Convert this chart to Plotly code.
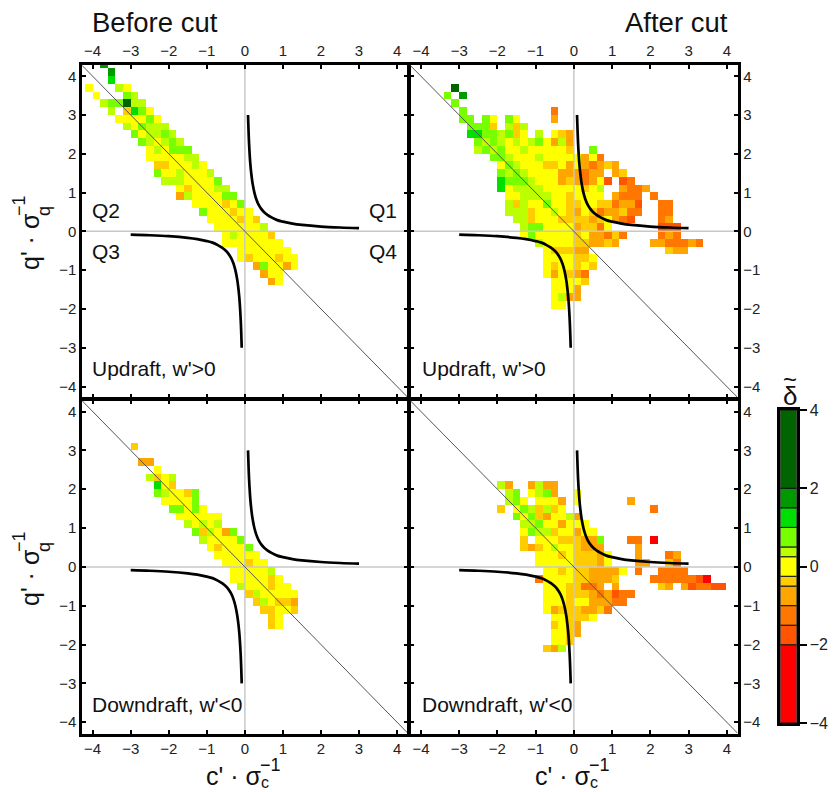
import plotly.graph_objects as go

W, H = 835, 792
FONT = "Liberation Sans"

# colour levels: code -> representative value, colour
LEVEL_BOUNDS = [-4, -2, -1.5, -1, -0.5, -0.25, 0.25, 0.5, 1, 1.5, 2, 4]
LEVEL_COLORS = ["#ff0000", "#ff5500", "#ff7700", "#ffa500", "#ffcc00", "#ffff00",
                "#bbff00", "#77ff00", "#00e000", "#009a00", "#006400"]
CODE_VALUES = {"r": -3, "i": -1.75, "h": -1.25, "g": -0.75, "f": -0.37, "y": 0,
               "e": 0.37, "d": 0.75, "c": 1.25, "b": 1.75, "a": 3}

# each row: (lower edge of q bin, left edge of first c bin, codes per 0.2-wide bin)
UP_BEFORE = [
    (4.2, -3.8, "b"), (4.0, -3.6, "b"), (3.8, -3.6, "c"), (3.6, -4.2, "y...ey"),
    (3.4, -4.0, "y...de"), (3.2, -3.8, "eddaee"), (3.0, -3.6, "e.fcdy"),
    (2.8, -3.4, "yyyydy"), (2.6, -3.2, "eydeee"), (2.4, -3.0, "dyeede"),
    (2.2, -2.8, "deyede"), (2.0, -2.6, "yeyddd"), (1.8, -2.6, "yyyyyee"),
    (1.6, -2.4, "ffyyyey"), (1.4, -2.4, "dyyeyyye"), (1.2, -2.2, "eeeyyyyd"),
    (1.0, -1.8, "yfyyyee"), (0.8, -1.8, "geyyyydd"), (0.6, -1.4, "yyyyfyd"),
    (0.4, -1.2, "dyyyfyy"), (0.2, -1.0, "yyyyfyf"), (0.0, -0.8, "yyyyyye"),
    (-0.2, -0.6, "yeyyyyf"), (-0.4, -0.6, "yyyyyyyy"), (-0.6, -0.2, "yyyyyyy"),
    (-0.8, -0.2, "yfyyyfyy"), (-1.0, 0.2, "gdyygy"), (-1.2, 0.4, "gyy"), (-1.4, 0.6, "gy"),
]
UP_AFTER = [
    (3.6, -3.2, "a"), (3.4, -3.4, "d.b"), (3.2, -3.2, "d"), (3.0, -3.0, "d...........h"),
    (2.8, -3.0, "dd.dy.dy....g"), (2.6, -2.8, "dddf.efe"), (2.4, -2.8, "ccddedfy.e.yfg"),
    (2.2, -2.6, "dedeyeyedygeg"), (2.0, -2.6, "ededyyeyyyyyf..d"),
    (1.8, -2.2, "ddeyyyeyyyyygyh"), (1.6, -2.0, "ydeyyyffygyghgfg"),
    (1.4, -2.0, "dedeyyyyggghgg.gf"), (1.2, -2.0, "cdddeyyygfghgyi.ih"),
    (1.0, -2.0, "cyeeeeyyyyyfye..ghhg"), (0.8, -1.8, "yyeeeeyyfyyyy.ghhh.h"),
    (0.6, -1.8, "efeyydyyffyyffhggi..hh"), (0.4, -1.8, "eeefyyeyfgyfhggfhh..hh"),
    (0.2, -1.6, "eefyyyffffgfyghi...hg"), (0.0, -1.4, "eddyyyygffhy......iii"),
    (-0.2, -1.4, "ydyyyyyfygghfh....hgh"), (-0.4, -1.0, "eyyyyffggfg....gghhhgh"),
    (-0.6, -0.8, "yfffgg..........fgg"), (-0.8, -0.8, "yyyyffy"), (-1.0, -0.8, "yfyyfyf"),
    (-1.2, -0.8, "ygyfgh"), (-1.4, -0.6, "yyyyf"), (-1.6, -0.6, "yyyg"),
    (-1.8, -0.6, "yegg"), (-2.0, -0.6, "yy"),
]
DOWN_BEFORE = [
    (3.0, -3.0, "f"), (2.6, -2.8, "gg"), (2.4, -2.4, "y"), (2.2, -2.6, "efye"),
    (2.0, -2.4, "cyf"), (1.8, -2.4, "deyyfd"), (1.6, -2.2, "yyyyd"), (1.4, -2.0, "ddydy"),
    (1.2, -1.8, "yyyyyy"), (1.0, -1.6, "eyeye"), (0.8, -1.4, "dfeygd"),
    (0.6, -1.2, "eyyyyd"), (0.4, -1.0, "yfyyyd"), (0.2, -0.8, "yyyyyy"),
    (0.0, -0.6, "yyyfyy"), (-0.2, -0.4, "yyyyye"), (-0.4, -0.4, "yyyyyfy"),
    (-0.6, -0.2, "eyyyfyy"), (-0.8, 0.0, "feyyyyy"), (-1.0, 0.2, "feyffg"),
    (-1.2, 0.4, "ffyyf"), (-1.4, 0.6, "fy"), (-1.6, 0.6, "fy"),
]
DOWN_AFTER = [
    (2.0, -2.0, "eg..gegg"), (1.8, -1.8, "ed.yedg..y"), (1.6, -1.8, "edy.yyyg.y......g"),
    (1.4, -2.0, "f.ydefefy...........h"), (1.2, -1.6, "dydfgyyeg"), (1.0, -1.4, "eedyygyyy"),
    (0.8, -1.4, "ydeefyygyy"), (0.6, -1.4, "f.yyyfffggd...hh.r"),
    (0.4, -1.4, "fgfyeyyfggg....g"), (0.2, -1.0, "yyyfyfffgy...g...hg"),
    (0.0, -1.0, "yyyyyfffgy...gg..fh"), (-0.2, -0.8, "yyfyffggggy.h..hhhh"),
    (-0.4, -1.0, "hyyyyffgggf....hhhhhhir"), (-0.6, -0.8, "yyyffhhg.g.....fg.gihhii"),
    (-0.8, -0.8, "yyyfffghgihh"), (-1.0, -0.8, "yyyfyyggghh"), (-1.2, -0.8, "ygfffggfh"),
    (-1.4, -0.6, "yyfffy"), (-1.6, -0.6, "fyfg"), (-1.8, -0.6, "yyfg"),
    (-2.0, -0.6, "yyf"), (-2.2, -0.8, "fge"),
]

# hyperbola guide
CURVE_C = [0.083, 0.09, 0.1, 0.11, 0.125, 0.145, 0.167, 0.2, 0.25, 0.3, 0.36, 0.43, 0.5, 0.6, 0.7, 0.85, 1.0, 1.25, 1.5, 2.0, 2.5, 3.0]
CURVE_Q = [3.0, 2.78, 2.5, 2.27, 2.0, 1.72, 1.5, 1.25, 1.0, 0.83, 0.69, 0.58, 0.5, 0.42, 0.36, 0.29, 0.25, 0.2, 0.167, 0.125, 0.1, 0.083]

TICKS = [-4, -3, -2, -1, 0, 1, 2, 3, 4]
TICK_TEXT = ["\u22124", "\u22123", "\u22122", "\u22121", "0", "1", "2", "3", "4"]
BAR_TICKS = [-4, -2, 0, 2, 4]
BAR_TEXT = ["\u22124", "\u22122", "0", "2", "4"]
XBINS = [-4.3 + 0.2 * i for i in range(44)]
YBINS = XBINS

XR, YR = 4.28, 4.29


def grid(rows):
    z = [[None] * 44 for _ in range(44)]
    for q_low, c_left, codes in rows:
        r = round((q_low + 4.4) / 0.2)
        c0 = round((c_left + 4.4) / 0.2)
        for i, ch in enumerate(codes):
            if ch != ".":
                z[r][c0 + i] = CODE_VALUES[ch]
    return z


def colorscale():
    out = []
    for i, col in enumerate(LEVEL_COLORS):
        out.append([(LEVEL_BOUNDS[i] + 4) / 8, col])
        out.append([(LEVEL_BOUNDS[i + 1] + 4) / 8, col])
    return out


fig = go.Figure()
panels = [
    ("x", "y", UP_BEFORE, (82.0, 407.75), (65.0, 397.75)),
    ("x2", "y2", UP_AFTER, (410.25, 737.5), (65.0, 397.75)),
    ("x3", "y3", DOWN_BEFORE, (82.0, 407.75), (400.25, 733.5)),
    ("x4", "y4", DOWN_AFTER, (410.25, 737.5), (400.25, 733.5)),
]
FRAME = dict(showline=True, linecolor="#000", linewidth=2.5, mirror="ticks", ticks="inside",
             ticklen=4, tickwidth=2, tickcolor="#000", showgrid=False, zeroline=False,
             tickfont=dict(family=FONT, size=15, color="#222"), layer="above traces")

for idx, (xa, ya, rows, (x0, x1), (y0, y1)) in enumerate(panels):
    fig.add_trace(go.Heatmap(x=XBINS, y=YBINS, z=grid(rows), xaxis=xa, yaxis=ya, zmin=-4, zmax=4,
                             colorscale=colorscale(), showscale=False, hoverongaps=False))
    line = dict(color="#c8c8c8", width=1.5)
    fig.add_trace(go.Scatter(x=[0, 0], y=[-YR, YR], mode="lines", line=line, xaxis=xa, yaxis=ya, showlegend=False))
    fig.add_trace(go.Scatter(x=[-XR, XR], y=[0, 0], mode="lines", line=line, xaxis=xa, yaxis=ya, showlegend=False))
    fig.add_trace(go.Scatter(x=[-XR, XR], y=[XR, -XR], mode="lines", line=dict(color="#555", width=1),
                             xaxis=xa, yaxis=ya, showlegend=False))
    for sign in (1, -1):
        fig.add_trace(go.Scatter(x=[sign * c for c in CURVE_C], y=[sign * q for q in CURVE_Q], mode="lines",
                                 line=dict(color="#000", width=2.7, shape="spline"), xaxis=xa, yaxis=ya,
                                 showlegend=False))
    xkey = "xaxis" + xa[1:]
    ykey = "yaxis" + ya[1:]
    fig.update_layout({
        xkey: dict(FRAME, domain=[x0 / W, x1 / W], range=[-XR, XR], tickvals=TICKS, ticktext=TICK_TEXT,
                   anchor=ya, side="top" if idx < 2 else "bottom"),
        ykey: dict(FRAME, domain=[1 - y1 / H, 1 - y0 / H], range=[-YR, YR], tickvals=TICKS, ticktext=TICK_TEXT,
                   anchor=xa, side="left" if idx % 2 == 0 else "right"),
    })

# colour bar drawn as stacked bars on its own axes
BAR_L, BAR_R, BAR_T, BAR_B = 780.25, 796.75, 410.0, 723.0
for i, col in enumerate(LEVEL_COLORS):
    fig.add_trace(go.Bar(x=[0], y=[LEVEL_BOUNDS[i + 1] - LEVEL_BOUNDS[i]], base=[LEVEL_BOUNDS[i]], width=[1],
                         marker=dict(color=col, line=dict(color="#111", width=1)),
                         xaxis="x5", yaxis="y5", showlegend=False))
fig.update_layout(
    barmode="overlay",
    xaxis5=dict(domain=[BAR_L / W, BAR_R / W], range=[-0.5, 0.5], anchor="y5", showticklabels=False, ticks="",
                showline=True, linecolor="#000", linewidth=2.5, mirror=True, showgrid=False, zeroline=False),
    yaxis5=dict(domain=[1 - BAR_B / H, 1 - BAR_T / H], range=[-4, 4], anchor="x5", side="right",
                tickvals=BAR_TICKS, ticktext=BAR_TEXT, ticks="outside", ticklen=7, tickwidth=2, tickcolor="#000",
                showline=True, linecolor="#000", linewidth=2.5, mirror=True, showgrid=False, zeroline=False,
                tickfont=dict(family=FONT, size=16, color="#222")),
)


def note(px, py, text, size, anchor="center", angle=0, color="#111"):
    fig.add_annotation(xref="paper", yref="paper", x=px / W, y=1 - py / H, text=text, showarrow=False,
                       font=dict(family=FONT, size=size, color=color), xanchor=anchor, yanchor="middle",
                       textangle=angle, borderpad=0, borderwidth=0)


note(155, 22, "Before cut", 27.5)
note(676, 22, "After cut", 27.5)
for off in (92, 422):
    note(off, 368, "Updraft, w'>0", 21, "left")
    note(off, 704, "Downdraft, w'<0", 21, "left")
note(92, 210, "Q2", 21, "left")
note(92, 252, "Q3", 21, "left")
note(369, 210, "Q1", 21, "left")
note(369, 252, "Q4", 21, "left")

for cx in (0, 329):
    note(233 + cx, 776, "c' \u00b7 \u03c3", 25)
    note(270 + cx, 765, "\u22121", 18)
    note(265 + cx, 782, "c", 16)
for cy in (0, 336):
    note(30, 242 + cy, "q' \u00b7 \u03c3", 25, angle=-90)
    note(19, 206 + cy, "\u22121", 18, angle=-90)
    note(44, 211 + cy, "q", 18, angle=-90)
note(790, 396, "\u03b4", 26)
note(790, 379, "~", 24)

fig.update_layout(width=W, height=H, margin=dict(l=0, r=0, t=0, b=0, autoexpand=False), paper_bgcolor="white",
                  plot_bgcolor="white", showlegend=False)
fig.write_html("out.html", config={"displayModeBar": False},
               post_script="document.body.style.margin='0';document.body.style.overflow='hidden';")
